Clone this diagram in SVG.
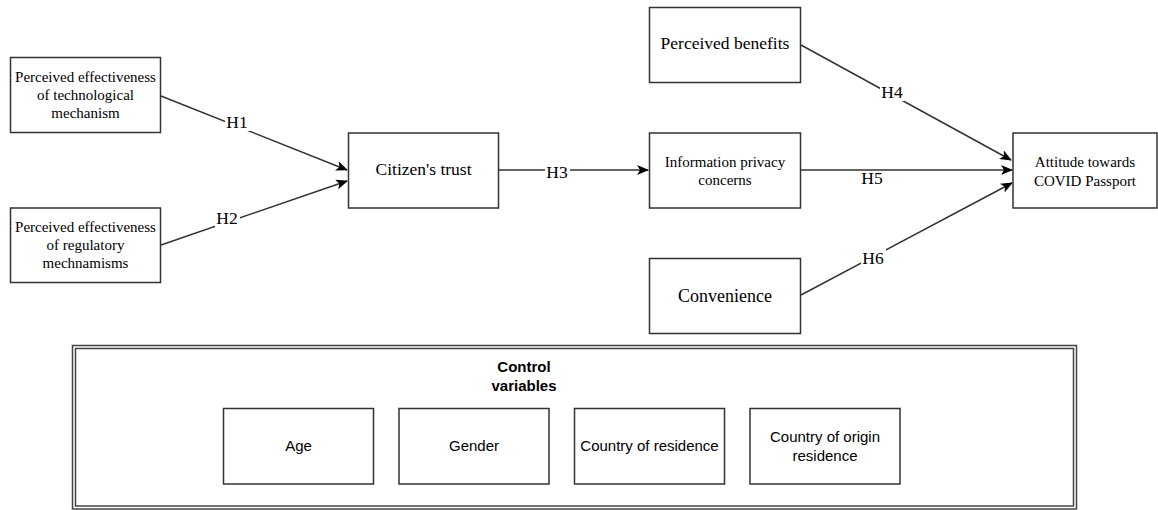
<svg xmlns="http://www.w3.org/2000/svg" width="1158" height="510" viewBox="0 0 1158 510">
  <defs>
    <style>
      .box { fill: #ffffff; stroke: #333333; stroke-width: 1.5; }
      .serif { font-family: "Liberation Serif", "Times New Roman", serif; fill: #000000; text-anchor: middle; }
      .sans { font-family: "Liberation Sans", Arial, sans-serif; fill: #000000; text-anchor: middle; font-size: 15px; }
      .edge { fill: none; stroke: #333333; stroke-width: 1.5; }
      .lbl { font-family: "Liberation Serif", "Times New Roman", serif; font-size: 17.5px; fill: #000000; text-anchor: middle; }
      .lblbg { fill: #ffffff; }
    </style>
    <marker id="arrow" viewBox="0 0 12 10" refX="11" refY="5" markerWidth="12" markerHeight="10" markerUnits="userSpaceOnUse" orient="auto">
      <path d="M0,0 L12,5 L0,10 L3,5 Z" fill="#000000"/>
    </marker>
  </defs>
  <rect width="1158" height="510" fill="#ffffff"/>

  <g id="connectors">
    <line class="edge" x1="161" y1="96" x2="347" y2="170" marker-end="url(#arrow)"/>
    <line class="edge" x1="161" y1="245" x2="347" y2="181" marker-end="url(#arrow)"/>
    <line class="edge" x1="499" y1="170" x2="648" y2="170" marker-end="url(#arrow)"/>
    <line class="edge" x1="801" y1="45" x2="1011" y2="160" marker-end="url(#arrow)"/>
    <line class="edge" x1="801" y1="170" x2="1012" y2="170" marker-end="url(#arrow)"/>
    <line class="edge" x1="801" y1="295" x2="1012" y2="183" marker-end="url(#arrow)"/>
    <g id="edge-labels">
      <rect class="lblbg" x="225" y="113" width="25" height="18"/>
      <text class="lbl" x="237" y="128">H1</text>
      <rect class="lblbg" x="215" y="209" width="25" height="18"/>
      <text class="lbl" x="227" y="224">H2</text>
      <rect class="lblbg" x="545" y="163" width="25" height="18"/>
      <text class="lbl" x="557" y="178">H3</text>
      <rect class="lblbg" x="880" y="83" width="25" height="18"/>
      <text class="lbl" x="892" y="98">H4</text>
      <rect class="lblbg" x="860" y="171" width="25" height="15"/>
      <text class="lbl" x="872" y="184">H5</text>
      <rect class="lblbg" x="861" y="249" width="25" height="18"/>
      <text class="lbl" x="873" y="264">H6</text>
    </g>
  </g>

  <g id="node-pet">
    <rect class="box" x="10.5" y="57.5" width="150" height="75"/>
    <text class="serif" font-size="15" x="85.5" y="82">Perceived effectiveness</text>
    <text class="serif" font-size="15" x="85.5" y="100">of technological</text>
    <text class="serif" font-size="15" x="85.5" y="118">mechanism</text>
  </g>
  <g id="node-per">
    <rect class="box" x="10.5" y="208" width="150" height="74.5"/>
    <text class="serif" font-size="15" x="85.5" y="232">Perceived effectiveness</text>
    <text class="serif" font-size="15" x="85.5" y="250">of regulatory</text>
    <text class="serif" font-size="15" x="85.5" y="268">mechnamisms</text>
  </g>
  <g id="node-trust">
    <rect class="box" x="348.5" y="133" width="150" height="75"/>
    <text class="serif" font-size="17.5" x="423.5" y="175">Citizen's trust</text>
  </g>
  <g id="node-benefits">
    <rect class="box" x="649.5" y="7.5" width="151" height="75"/>
    <text class="serif" font-size="17.5" x="725" y="49">Perceived benefits</text>
  </g>
  <g id="node-privacy">
    <rect class="box" x="649.5" y="133" width="151" height="75"/>
    <text class="serif" font-size="15" x="725" y="167">Information privacy</text>
    <text class="serif" font-size="15" x="725" y="185">concerns</text>
  </g>
  <g id="node-convenience">
    <rect class="box" x="649.5" y="258.5" width="151" height="75"/>
    <text class="serif" font-size="18" x="725" y="302">Convenience</text>
  </g>
  <g id="node-attitude">
    <rect class="box" x="1013" y="133" width="144" height="75"/>
    <text class="serif" font-size="15" x="1085" y="167">Attitude towards</text>
    <text class="serif" font-size="15" x="1085" y="186">COVID Passport</text>
  </g>

  <g id="node-control">
    <rect x="72.5" y="345.5" width="1004" height="163.5" fill="#ffffff" stroke="#444444" stroke-width="1.5"/>
    <rect x="75.5" y="348.5" width="998" height="157.5" fill="none" stroke="#444444" stroke-width="1.5"/>
    <text class="sans" font-weight="bold" x="524" y="372">Control</text>
    <text class="sans" font-weight="bold" x="524" y="391">variables</text>
  </g>
  <g id="node-age">
    <rect class="box" x="223.5" y="408.5" width="150" height="75.5"/>
    <text class="sans" x="298.5" y="451">Age</text>
  </g>
  <g id="node-gender">
    <rect class="box" x="399" y="408.5" width="150" height="75.5"/>
    <text class="sans" x="474" y="451">Gender</text>
  </g>
  <g id="node-residence">
    <rect class="box" x="574.5" y="408.5" width="150" height="75.5"/>
    <text class="sans" x="649.5" y="451">Country of residence</text>
  </g>
  <g id="node-origin">
    <rect class="box" x="750" y="408.5" width="150" height="75.5"/>
    <text class="sans" x="825" y="442">Country of origin</text>
    <text class="sans" x="825" y="461">residence</text>
  </g>
</svg>
